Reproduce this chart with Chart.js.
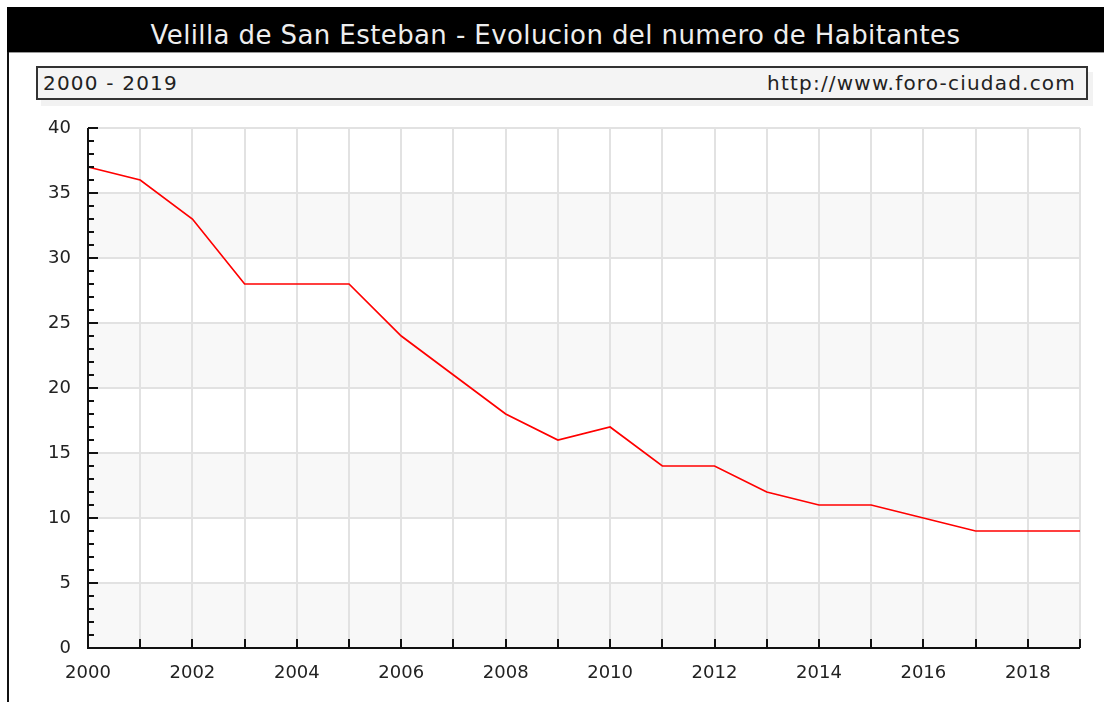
<!DOCTYPE html>
<html lang="es">

<head>
    <meta charset="UTF-8">
    <title>Velilla de San Esteban</title>
    <script src="https://cdn.jsdelivr.net/npm/chart.js"></script>
    <style>
        * {
            margin: 0;
            padding: 0;
        }

        body {
            background-color: #fff;
            width: 1104px;
            height: 702px;
            position: relative;
            overflow: hidden;
            font-family: "DejaVu Sans", Verdana, sans-serif;
        }

        #titleBar {
            position: absolute;
            left: 7px;
            top: 7px;
            width: 1097px;
            height: 33px;
            padding-top: 12px;
            background-color: #000;
            border-bottom: 1px solid #999;
            color: #eee;
            font-size: 26px;
            letter-spacing: 0.4px;
            line-height: 33px;
            text-align: center;
        }

        #frame {
            position: absolute;
            left: 7px;
            top: 52px;
            width: 2px;
            height: 650px;
            background-color: #111;
        }

        #rangeBox {
            position: absolute;
            left: 36px;
            top: 66px;
            width: 1048px;
            height: 30px;
            border: 2px solid #333;
            background-color: #f4f4f4;
            box-shadow: 5px 6px 0 #f2f2f2;
            font-size: 20px;
            letter-spacing: 1.2px;
            line-height: 30px;
            color: #222;
        }

        #rangeBox span {
            position: absolute;
            top: 0;
        }

        #range {
            left: 5px;
        }

        #site {
            right: 10px;
        }

        #chartBox {
            position: absolute;
            left: 0;
            top: 0;
            width: 1104px;
            height: 702px;
        }
    </style>
</head>

<body>
    <div id="titleBar">Velilla de San Esteban - Evolucion del numero de Habitantes</div>
    <div id="frame"></div>
    <div id="rangeBox"><span id="range">2000 - 2019</span><span id="site">http://www.foro-ciudad.com</span></div>
    <div id="chartBox">
        <canvas id="myChart"></canvas>
    </div>

    <script>

        const years = [2000, 2001, 2002, 2003, 2004, 2005, 2006, 2007, 2008, 2009,
            2010, 2011, 2012, 2013, 2014, 2015, 2016, 2017, 2018, 2019];
        const habitantes = [37, 36, 33, 28, 28, 28, 24, 21, 18, 16,
            17, 14, 14, 12, 11, 11, 10, 9, 9, 9];
        const yTicks = [0, 5, 10, 15, 20, 25, 30, 35, 40];

        // grey bands every other 5 units, under the grid
        const bandsPlugin = {
            id: 'bands',
            beforeDraw(chart) {
                const ctx = chart.ctx;
                const area = chart.chartArea;
                const y = chart.scales.y;
                ctx.save();
                ctx.fillStyle = '#f8f8f8';
                for (let i = 0; i < yTicks.length - 1; i += 2) {
                    const top = y.getPixelForValue(yTicks[i + 1]);
                    const bottom = y.getPixelForValue(yTicks[i]);
                    ctx.fillRect(area.left, top, area.right - area.left, bottom - top);
                }
                ctx.restore();
            }
        };

        // axis lines with ticks pointing into the plot
        const axisPlugin = {
            id: 'innerTicks',
            afterDatasetsDraw(chart) {
                const ctx = chart.ctx;
                const area = chart.chartArea;
                const x = chart.scales.x;
                const y = chart.scales.y;
                ctx.save();
                ctx.strokeStyle = '#111';
                ctx.lineWidth = 2;
                ctx.beginPath();
                for (let v = 0; v <= 40; v++) {
                    const py = Math.round(y.getPixelForValue(v));
                    const len = v % 5 === 0 ? 10 : 6;
                    ctx.moveTo(area.left, py);
                    ctx.lineTo(area.left + len, py);
                }
                years.forEach(function (yr, i) {
                    const px = Math.round(x.getPixelForValue(i));
                    ctx.moveTo(px, area.bottom);
                    ctx.lineTo(px, area.bottom - 9);
                });
                ctx.moveTo(area.left, area.top);
                ctx.lineTo(area.left, area.bottom);
                ctx.lineTo(area.right, area.bottom);
                ctx.stroke();
                ctx.restore();
            }
        };

        const config = {
            type: 'line',
            data: {
                labels: years,
                datasets: [{
                    label: 'Habitantes',
                    data: habitantes,
                    borderColor: '#ff0000',
                    borderWidth: 1.7,
                    pointRadius: 0,
                    fill: false,
                    tension: 0
                }]
            },
            options: {
                responsive: false,
                animation: false,
                events: [],
                layout: {
                    padding: { top: 128, right: 24, left: 0, bottom: 0 }
                },
                plugins: {
                    legend: { display: false },
                    tooltip: { enabled: false }
                },
                scales: {
                    x: {
                        offset: false,
                        grid: {
                            color: '#e2e2e2',
                            lineWidth: 2,
                            drawTicks: false
                        },
                        border: { display: false },
                        ticks: {
                            autoSkip: false,
                            maxRotation: 0,
                            padding: 15,
                            color: '#222',
                            font: { family: 'DejaVu Sans', size: 18 },
                            callback: function (val, i) {
                                return years[i] % 2 === 0 ? String(years[i]) : '';
                            }
                        },
                        afterFit: function (scale) {
                            scale.height = 54;
                        }
                    },
                    y: {
                        min: 0,
                        max: 40,
                        grid: {
                            color: function (c) {
                                return c.tick.value % 5 === 0 ? '#e2e2e2' : 'rgba(0,0,0,0)';
                            },
                            lineWidth: 2,
                            drawTicks: false
                        },
                        border: { display: false },
                        ticks: {
                            stepSize: 1,
                            autoSkip: false,
                            padding: 17,
                            color: '#222',
                            font: { family: 'DejaVu Sans', size: 18 },
                            callback: function (val) {
                                return yTicks.includes(val) ? String(val) : '';
                            }
                        },
                        afterFit: function (scale) {
                            scale.width = 88;
                        }
                    }
                }
            },
            plugins: [bandsPlugin, axisPlugin]
        };

        const canvas = document.getElementById("myChart");
        canvas.width = 1104;
        canvas.height = 702;
        const myChartInstance = new Chart(canvas, config);

    </script>
</body>

</html>
